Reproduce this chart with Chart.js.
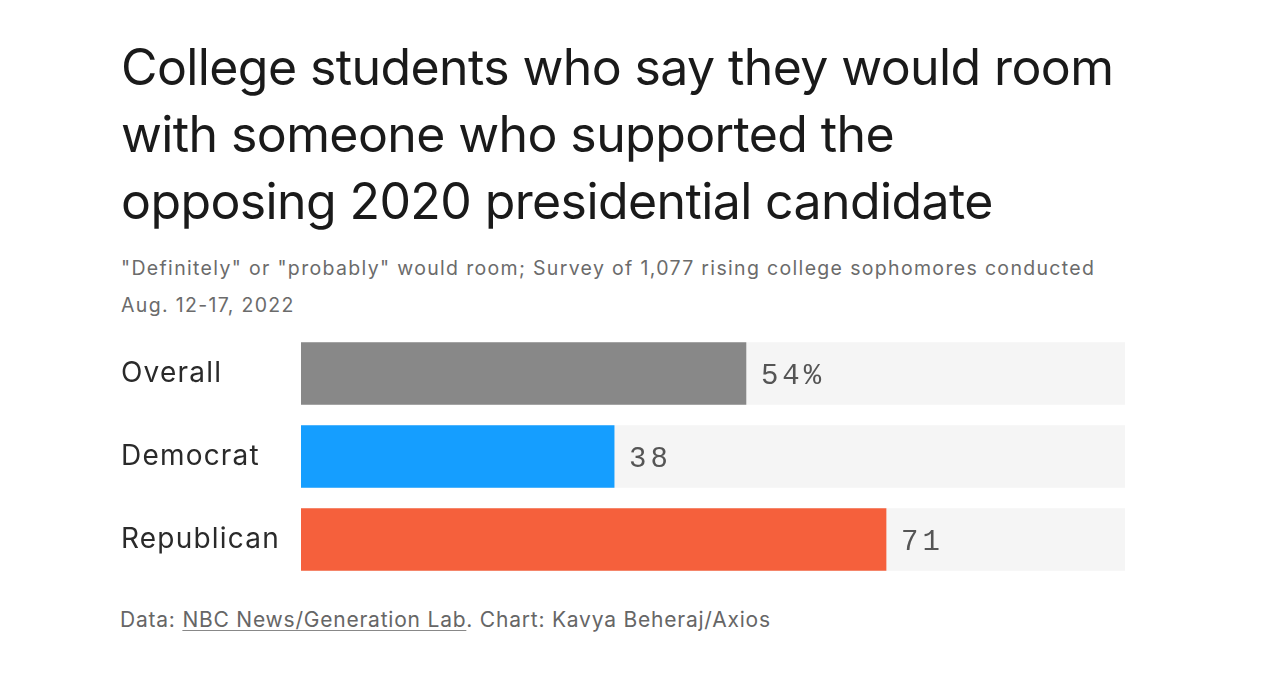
<!DOCTYPE html>
<html>
<head>
<meta charset="utf-8">
<script src="https://cdn.jsdelivr.net/npm/chart.js@4"></script>
<style>
  html, body { margin: 0; padding: 0; background: #fff; width: 1280px; height: 673px; overflow: hidden; }
  .txt { position: absolute; white-space: nowrap; font-family: Inter, "Noto Sans", sans-serif; }
  #title { left: 121px; top: 34px; font-size: 50px; line-height: 67px; color: #1a1a1a; }
  #subtitle { left: 121px; top: 250px; font-size: 19.5px; line-height: 37px; color: #6b6b6b; }
  #footer { left: 120px; top: 605px; font-size: 21px; line-height: 30px; color: #666; }
  #footer u { text-decoration-color: #888; text-underline-offset: 3px; text-decoration-thickness: 1px; }
  #wrap { position: absolute; left: 121px; top: 332px; width: 1004px; height: 249px; }
</style>
</head>
<body>
<div id="title" class="txt">College students who say they would room<br>with someone who supported the<br>opposing 2020 presidential candidate</div>
<div id="subtitle" class="txt">"Definitely" or "probably" would room; Survey of 1,077 rising college sophomores conducted<br>Aug. 12-17, 2022</div>
<div id="footer" class="txt">Data: <u>NBC News/Generation Lab</u>. Chart: Kavya Beheraj/Axios</div>
<div id="wrap"><canvas id="c"></canvas></div>
<script>
const categories = ["Overall", "Democrat", "Republican"];
const values = [54, 38, 71];
const valueLabels = ["54%", "38", "71"];
const trackValues = [100, 100, 100];
const barColors = ["#888888", "#159eff", "#f5603c"];

// fit text blocks to the widths seen in the reference via letter-spacing
function fitSpacing(id, line, target) {
  const el = document.getElementById(id);
  const cs = getComputedStyle(el);
  const c = document.createElement("canvas").getContext("2d");
  c.font = cs.fontSize + " " + cs.fontFamily;
  const w = c.measureText(line).width;
  const n = line.length - 1;
  el.style.letterSpacing = ((target - w) / n) + "px";
}
fitSpacing("title", "College students who say they would room", 993);
fitSpacing("subtitle", "\"Definitely\" or \"probably\" would room; Survey of 1,077 rising college sophomores conducted", 973);
fitSpacing("footer", "Data: NBC News/Generation Lab. Chart: Kavya Beheraj/Axios", 650);

const tickFont = { family: 'Inter, "Noto Sans", sans-serif', size: 28 };

const spacingPlugin = {
  id: "spacing",
  beforeDraw(chart) { chart.ctx.letterSpacing = "1.2px"; }
};

const valueLabelPlugin = {
  id: "valueLabels",
  afterDatasetsDraw(chart) {
    const meta = chart.getDatasetMeta(0);
    const ctx = chart.ctx;
    ctx.save();
    ctx.font = '29px "Liberation Mono", "DejaVu Sans Mono", monospace';
    ctx.letterSpacing = "4px";
    ctx.fillStyle = "#555555";
    ctx.textBaseline = "alphabetic";
    ctx.textAlign = "left";
    meta.data.forEach((bar, i) => {
      ctx.fillText(valueLabels[i], bar.x + 15, bar.y + 10);
    });
    ctx.restore();
  }
};

new Chart(document.getElementById("c"), {
  type: "bar",
  data: {
    labels: categories,
    datasets: [
      { data: values, backgroundColor: barColors, barThickness: 62, grouped: false, order: 0 },
      { data: trackValues, backgroundColor: "#f5f5f5", barThickness: 62, grouped: false, order: 1 }
    ]
  },
  options: {
    indexAxis: "y",
    responsive: true,
    maintainAspectRatio: false,
    animation: false,
    layout: { padding: 0 },
    plugins: { legend: { display: false }, tooltip: { enabled: false } },
    scales: {
      x: { min: 0, max: 100, display: false },
      y: {
        grid: { display: false, drawTicks: false },
        border: { display: false },
        ticks: {
          crossAlign: "far",
          padding: 0,
          color: "#2a2a2a",
          font: tickFont
        },
        afterFit(scale) { scale.width = 180; scale.paddingTop = 0; scale.paddingBottom = 0; }
      }
    }
  },
  plugins: [spacingPlugin, valueLabelPlugin]
});
</script>
</body>
</html>
